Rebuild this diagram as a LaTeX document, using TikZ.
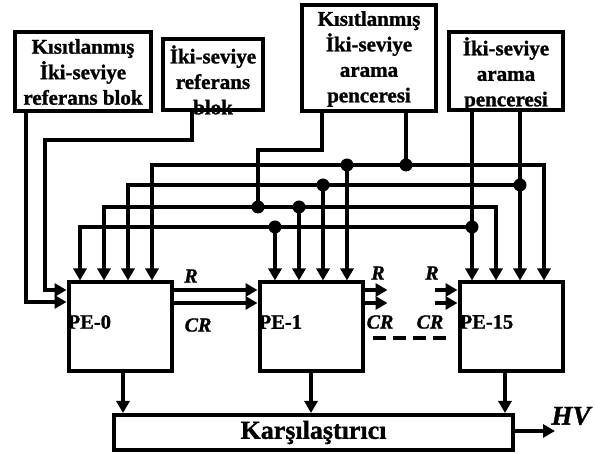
\documentclass[tikz,border=0pt]{standalone}
\usepackage{fontspec}
\setmainfont{Liberation Serif}[BoldFeatures={FakeBold=1.2},BoldItalicFeatures={FakeBold=1.2}]
\usetikzlibrary{arrows.meta}
\begin{document}
\begin{tikzpicture}[x=1pt,y=-1pt,
  blk/.style={draw, line width=4pt, inner sep=0pt},
  txt/.style={font=\bfseries\fontsize{21}{25.5}\selectfont, align=center, inner sep=0pt},
  petxt/.style={font=\bfseries\fontsize{20.5}{24}\selectfont, inner sep=0pt, anchor=west},
  wire/.style={line width=3.3pt},
  arr/.style={wire, -{Triangle[length=12pt,width=13pt]}},
  jdot/.style={circle, fill, inner sep=0pt, minimum size=13pt},
  lab/.style={font=\bfseries\itshape\fontsize{20}{24}\selectfont, inner sep=0pt}
]
\useasboundingbox (0,0) rectangle (595,454);

% source blocks
\node[blk, minimum width=136pt, minimum height=79pt] (A) at (83,71.5) {};
\node[txt] (Atxt) at (83,72) {Kısıtlanmış\\İki-seviye\\referans blok};
\node[blk, minimum width=100pt, minimum height=71pt] (B) at (213,74.5) {};
\node[txt] (Btxt) at (213,80) {İki-seviye\\referans\\blok};
\node[blk, minimum width=134pt, minimum height=106pt] (C) at (369,58) {};
\node[txt] (Ctxt) at (369,59) {Kısıtlanmış\\İki-seviye\\arama\\penceresi};
\node[blk, minimum width=114pt, minimum height=78pt] (D) at (506,71) {};
\node[txt] (Dtxt) at (506,74) {İki-seviye\\arama\\penceresi};

% processing elements
\node[blk, minimum width=103pt, minimum height=89pt] (PE0) at (120,327) {};
\node[blk, minimum width=103pt, minimum height=89pt] (PE1) at (311,327) {};
\node[blk, minimum width=103pt, minimum height=89pt] (PE15) at (511,327) {};
\node[petxt] (PE0t) at ([xshift=1pt,yshift=5pt]PE0.west) {PE-0};
\node[petxt] (PE1t) at ([xshift=1pt,yshift=5pt]PE1.west) {PE-1};
\node[petxt] (PE15t) at ([xshift=2pt,yshift=5pt]PE15.west) {PE-15};

% comparator
\node[blk, minimum width=399pt, minimum height=35pt, font=\bfseries\fontsize{26}{30}\selectfont] (CMP) at (313.5,432.5) {Karşılaştırıcı};

% left inputs of PE-0
\coordinate (b1) at (45,140);
\draw[arr] ([xshift=-57pt]A.south) |- ([yshift=25pt]PE0.west);
\draw[arr] ([xshift=-21pt]B.south) |- (b1) |- ([yshift=37pt]PE0.west);

% junction coordinates
\coordinate (c1) at (258,150);
\coordinate (c2) at (258,207);
\coordinate (c4) at (406,165);
\coordinate (d1) at (472,227);
\coordinate (d3) at (520,185);
\coordinate (e1) at (275,227);
\coordinate (e2) at (299,207);
\coordinate (e3) at (323,185);
\coordinate (e4) at (347,165);

% line 1 (y=227) from D left output
\draw[arr] ([xshift=-34pt]D.south) -- ([xshift=-39pt]PE15.north);
\draw[arr] (d1) -| ([xshift=-40pt]PE0.north);
\draw[arr] (e1) -- ([xshift=-36pt]PE1.north);

% line 2 (y=207) from C left output
\draw[wire] ([xshift=-47pt]C.south) |- (c1) -- (c2);
\draw[arr] (c2) -| ([xshift=-16pt]PE0.north);
\draw[arr] (c2) -| ([xshift=-15pt]PE15.north);
\draw[arr] (e2) -- ([xshift=-12pt]PE1.north);

% line 3 (y=185) from D right output
\draw[arr] ([xshift=14pt]D.south) -- ([xshift=9pt]PE15.north);
\draw[arr] (d3) -| ([xshift=8pt]PE0.north);
\draw[arr] (e3) -- ([xshift=12pt]PE1.north);

% line 4 (y=165) from C right output
\draw[wire] ([xshift=37pt]C.south) -- (c4);
\draw[arr] (c4) -| ([xshift=32pt]PE0.north);
\draw[arr] (c4) -| ([xshift=33pt]PE15.north);
\draw[arr] (e4) -- ([xshift=36pt]PE1.north);

% junction dots
\foreach \j in {c2,c4,d1,d3,e1,e2,e3,e4} \node[jdot] at (\j) {};

% R / CR chain
\draw[arr] ([yshift=37pt]PE0.east) -- ([yshift=37pt]PE1.west);
\draw[arr] ([yshift=24pt]PE0.east) -- ([yshift=24pt]PE1.west);
\draw[arr] ([yshift=37pt]PE1.east) -- ++(23,0) coordinate (r1);
\draw[arr] ([yshift=24pt]PE1.east) -- ++(23,0) coordinate (cr1);
\draw[arr] ([xshift=-23pt,yshift=37pt]PE15.west) coordinate (r15) -- ([yshift=37pt]PE15.west);
\draw[arr] ([xshift=-23pt,yshift=24pt]PE15.west) coordinate (cr15) -- ([yshift=24pt]PE15.west);
\draw[line width=3.5pt, dash pattern=on 13pt off 7pt] ([xshift=8pt,yshift=-11pt]PE1.east) -- ([xshift=-11pt,yshift=-11pt]PE15.west);

\node[lab] (R0) at (191,276) {R};
\node[lab] (CR0) at (198,325) {CR};
\node[lab] (R1) at (378,273) {R};
\node[lab] (CR1) at (380,322) {CR};
\node[lab] (R15) at (432,273) {R};
\node[lab] (CR15) at (430,322) {CR};

% outputs to comparator
\draw[arr] ([xshift=3pt]PE0.south) -- ([xshift=3pt]PE0.south |- CMP.north);
\draw[arr] ([xshift=0pt]PE1.south) -- ([xshift=0pt]PE1.south |- CMP.north);
\draw[arr] ([xshift=-6pt]PE15.south) -- ([xshift=-6pt]PE15.south |- CMP.north);

% HV output
\draw[arr] ([yshift=1.5pt]CMP.east) -- ++(40,0) coordinate (hv);
\node[lab, font=\bfseries\itshape\fontsize{27}{30}\selectfont] (HVt) at (571,416) {HV};
\end{tikzpicture}
\end{document}
